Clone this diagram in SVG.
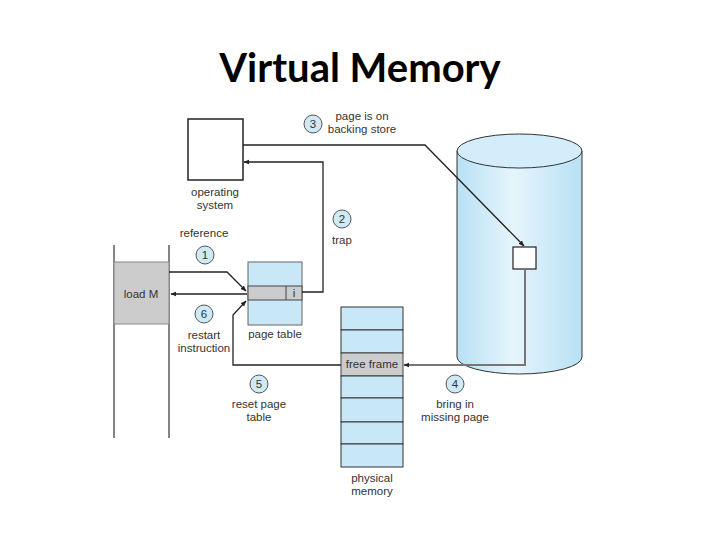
<svg xmlns="http://www.w3.org/2000/svg" width="720" height="540" viewBox="0 0 720 540">
<style>
.t{font-family:"Liberation Sans",Arial,sans-serif;font-size:11.5px;fill:#333;text-anchor:middle}
.ttl{font-family:Lato,"Open Sans","Liberation Sans",sans-serif;font-size:40px;font-weight:bold;fill:#000;text-anchor:middle}
.cir{fill:#cfe9f7;stroke:#555;stroke-width:1}
.ln{fill:none;stroke:#222;stroke-width:1.3}
.lg{fill:none;stroke:#777;stroke-width:2}
.row{fill:#c8e8f8;stroke:#333;stroke-width:1}
</style>
<defs>
<marker id="ah" viewBox="0 0 10 10" refX="9" refY="5" markerWidth="6" markerHeight="6" orient="auto" markerUnits="userSpaceOnUse">
<path d="M0,1 L10,5 L0,9 z" fill="#222"/>
</marker>
<linearGradient id="cyl" x1="0" y1="0" x2="1" y2="0">
<stop offset="0" stop-color="#b8e0f5"/>
<stop offset="0.45" stop-color="#e6f5fc"/>
<stop offset="1" stop-color="#b8e0f5"/>
</linearGradient>
</defs>
<rect width="720" height="540" fill="#fff"/>
<text class="ttl" x="360" y="82">Virtual Memory</text>

<g id="disk">
<path d="M457,151 L457,357 A62.5,17 0 0 0 582,357 L582,151 Z" fill="url(#cyl)" stroke="#333" stroke-width="1"/>
<ellipse cx="519.5" cy="151" rx="62.5" ry="17" fill="#d3eefa" stroke="#333" stroke-width="1"/>
<rect x="513" y="247" width="23" height="22" fill="#fff" stroke="#222" stroke-width="1.2"/>
</g>

<g id="os">
<rect x="188" y="119" width="55" height="61" fill="#fff" stroke="#222" stroke-width="1.5"/>
<text class="t" x="215" y="196">operating</text>
<text class="t" x="215" y="209">system</text>
</g>

<g id="process">
<line x1="114" y1="245" x2="114" y2="438" stroke="#333" stroke-width="1.2"/>
<line x1="169" y1="245" x2="169" y2="438" stroke="#333" stroke-width="1.2"/>
<rect x="114" y="262" width="55" height="62" fill="#cccccc" stroke="#888" stroke-width="1"/>
<text class="t" x="141" y="298">load M</text>
</g>

<g id="pagetable">
<rect x="248" y="262" width="54" height="63" fill="#c8e8f8" stroke="#666" stroke-width="1"/>
<rect x="248" y="286" width="54" height="14" fill="#cccccc" stroke="#444" stroke-width="1"/>
<line x1="286" y1="286" x2="286" y2="300" stroke="#444" stroke-width="1"/>
<text class="t" x="294" y="297">i</text>
<text class="t" x="275" y="338">page table</text>
</g>

<g id="physmem">
<rect class="row" x="341" y="307" width="62" height="23" stroke="#555"/>
<rect class="row" x="341" y="330" width="62" height="23" stroke="#555"/>
<rect x="341" y="353" width="62" height="23" fill="#cccccc" stroke="#444" stroke-width="1"/>
<text class="t" x="372" y="368">free frame</text>
<rect class="row" x="341" y="376" width="62" height="22"/>
<rect class="row" x="341" y="398" width="62" height="24"/>
<rect class="row" x="341" y="422" width="62" height="22"/>
<rect class="row" x="341" y="444" width="62" height="23"/>
<text class="t" x="372" y="482">physical</text>
<text class="t" x="372" y="495">memory</text>
</g>

<g id="connectors">
<polyline class="ln" points="243,145 425,145 524,246" marker-end="url(#ah)"/>
<polyline class="ln" points="302,292 323,292 323,162 244,162" stroke-width="2" marker-end="url(#ah)"/>
<polyline class="ln" points="169,272 227,272 246,291" marker-end="url(#ah)"/>
<polyline class="ln" points="247,294 171,294" marker-end="url(#ah)"/>
<polyline class="ln" points="341,365 233,365 233,315 246,301" marker-end="url(#ah)"/>
<polyline class="lg" points="525,269 525,365 404,365" marker-end="url(#ah)"/>
</g>

<g id="labels">
<circle class="cir" cx="205" cy="255" r="9"/><text class="t" x="205" y="259">1</text>
<text class="t" x="204" y="237">reference</text>
<circle class="cir" cx="342" cy="219" r="9"/><text class="t" x="342" y="223">2</text>
<text class="t" x="342" y="244">trap</text>
<circle class="cir" cx="313" cy="124" r="9"/><text class="t" x="313" y="128">3</text>
<text class="t" x="362" y="120">page is on</text>
<text class="t" x="362" y="133">backing store</text>
<circle class="cir" cx="455" cy="384" r="9"/><text class="t" x="455" y="388">4</text>
<text class="t" x="455" y="408">bring in</text>
<text class="t" x="455" y="421">missing page</text>
<circle class="cir" cx="259" cy="384" r="9"/><text class="t" x="259" y="388">5</text>
<text class="t" x="259" y="408">reset page</text>
<text class="t" x="259" y="421">table</text>
<circle class="cir" cx="204" cy="314" r="9"/><text class="t" x="204" y="318">6</text>
<text class="t" x="204" y="339">restart</text>
<text class="t" x="204" y="352">instruction</text>
</g>
</svg>
